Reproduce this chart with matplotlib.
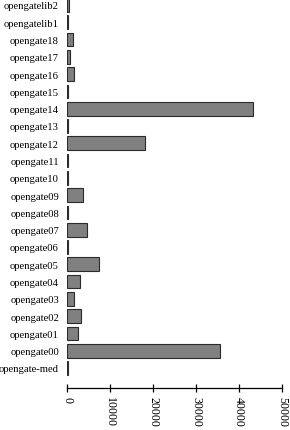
import matplotlib

matplotlib.use("Agg")

import matplotlib.pyplot as plt  # noqa: E402

plt.rcParams["font.family"] = ["Liberation Serif", "DejaVu Serif"]

# bottom to top, as barplot draws them
hosts = [
    "opengate-med", "opengate00", "opengate01", "opengate02", "opengate03",
    "opengate04", "opengate05", "opengate06", "opengate07", "opengate08",
    "opengate09", "opengate10", "opengate11", "opengate12", "opengate13",
    "opengate14", "opengate15", "opengate16", "opengate17", "opengate18",
    "opengatelib1", "opengatelib2",
]
counts = [
    80, 35500, 2400, 3250, 1500,
    2900, 7450, 80, 4500, 80,
    3700, 80, 150, 18050, 200,
    43250, 250, 1650, 650, 1400,
    80, 400,
]
xticks = [0, 10000, 20000, 30000, 40000, 50000]

W, H = 290, 431
fig = plt.figure(figsize=(W / 100, H / 100), dpi=100)

# pixel geometry of the plot region
x0_px, x1_px = 67.3, 282.3        # value 0 and 50000
top_px, bottom_px = 0.0, 380.0
step_px = (369 - 6) / (len(hosts) - 1)

ax = fig.add_axes([x0_px / W, 1 - bottom_px / H,
                   (x1_px - x0_px) / W, (bottom_px - top_px) / H])

pos = list(range(len(hosts)))
ax.barh(pos, counts, height=0.8, color="#808080", edgecolor="#2b2b2b",
        linewidth=0.8)

ax.set_xlim(0, 50000)
ax.set_ylim(-(bottom_px - 369) / step_px,
            len(hosts) - 1 + (6 - top_px) / step_px)

for side in ("top", "right", "left"):
    ax.spines[side].set_visible(False)
ax.spines["bottom"].set_position(("outward", 6.5))
ax.spines["bottom"].set_bounds(0, 50000)
ax.spines["bottom"].set_linewidth(0.9)

ax.set_yticks(pos)
ax.set_yticklabels(hosts, fontsize=7.7)
ax.tick_params(axis="y", length=0, pad=6)

ax.set_xticks(xticks)
ax.set_xticklabels([str(v) for v in xticks], rotation=270, fontsize=8.6)
ax.tick_params(axis="x", direction="inout", length=5.5, width=0.9, pad=3)

fig.savefig("out.png", dpi=100)
plt.close(fig)
